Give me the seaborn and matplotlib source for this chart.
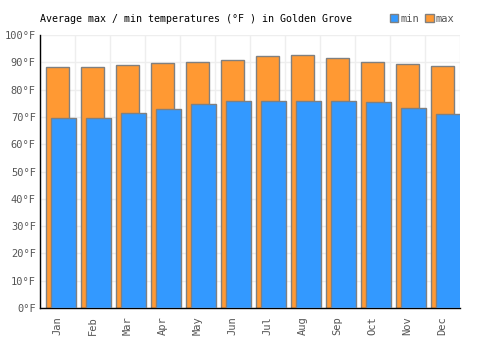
import numpy as np
import pandas as pd
import seaborn as sns
import matplotlib.pyplot as plt
from matplotlib.patches import Patch
from matplotlib.ticker import MultipleLocator, FuncFormatter

months = ["Jan", "Feb", "Mar", "Apr", "May", "Jun", "Jul", "Aug", "Sep", "Oct", "Nov", "Dec"]
t_max = [88.4, 88.4, 89.1, 89.9, 90.2, 91.0, 92.4, 92.8, 91.7, 90.2, 89.5, 88.8]
t_min = [69.7, 69.7, 71.6, 73.0, 74.9, 76.0, 76.0, 76.0, 76.0, 75.6, 73.4, 71.2]

df = pd.DataFrame({"month": months, "max": t_max, "min": t_min})

sns.set_style("white")
plt.rcParams["font.family"] = ["DejaVu Sans Mono"]

fig = plt.figure(figsize=(5, 3.5), dpi=100)
ax = fig.add_axes([0.08, 0.12, 0.84, 0.78])

blue = "#3399ff"
orange = "#ff9933"
edge = "#808080"

# max bars (behind), centred in the column
sns.barplot(data=df, x="month", y="max", color=orange, width=0.66,
            edgecolor=edge, linewidth=1, saturation=1, ax=ax, zorder=2)
n_max = len(ax.patches)
# min bars (front), shifted right so they overlap the max bars
sns.barplot(data=df, x="month", y="min", color=blue, width=0.7,
            edgecolor=edge, linewidth=1, saturation=1, ax=ax, zorder=3)
for p in ax.patches[n_max:]:
    p.set_x(p.get_x() + 0.17)

ax.set_xlim(-0.5, 11.5)
ax.set_ylim(0, 100)
ax.yaxis.set_major_locator(MultipleLocator(10))
ax.yaxis.set_major_formatter(FuncFormatter(lambda v, _: f"{int(v)}°F"))
ax.xaxis.set_minor_locator(MultipleLocator(1, offset=0.5))
ax.grid(True, axis="y", which="major", color="#eeeeee", lw=1, zorder=0)
ax.grid(True, axis="x", which="minor", color="#eeeeee", lw=1, zorder=0)
ax.set_axisbelow(True)

ax.set_xlabel("")
ax.set_ylabel("")
ax.tick_params(axis="x", which="both", length=0, labelsize=7.5, labelcolor="#555555",
               rotation=90, pad=6)
ax.tick_params(axis="y", length=0, labelsize=7.5, labelcolor="#555555", pad=3)

for s in ["top", "right"]:
    ax.spines[s].set_visible(False)
ax.spines["left"].set_color("black")
ax.spines["bottom"].set_color("black")
ax.spines["left"].set_linewidth(1)
ax.spines["bottom"].set_linewidth(1)

fig.text(0.08, 0.945, "Average max / min temperatures (°F ) in Golden Grove",
         fontsize=7.2, color="black", va="center", ha="left")

handles = [Patch(facecolor=blue, edgecolor=edge, label="min"),
           Patch(facecolor=orange, edgecolor=edge, label="max")]
leg = fig.legend(handles=handles, loc="center right", bbox_to_anchor=(0.928, 0.947),
                 ncol=2, frameon=False, fontsize=7.5, handlelength=0.8, handleheight=0.8,
                 handletextpad=0.2, columnspacing=0.6)
for t in leg.get_texts():
    t.set_color("#555555")

fig.savefig("out.png", dpi=100)
